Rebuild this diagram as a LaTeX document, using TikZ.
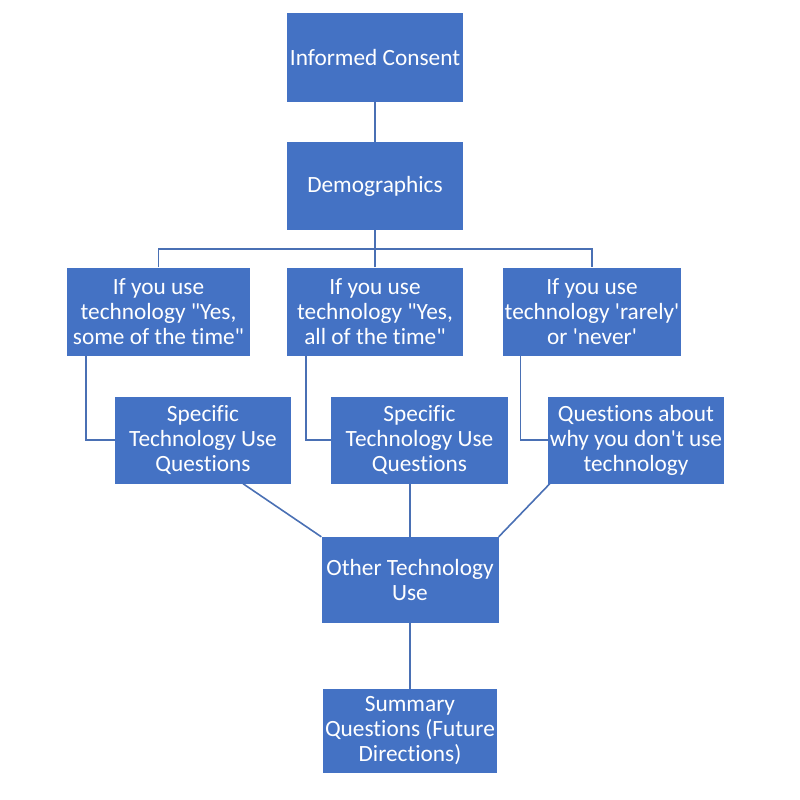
\documentclass[tikz,border=0pt]{standalone}
\usepackage{fontspec}
\setmainfont{Carlito}[Ligatures={TeXOff,NoCommon}]
\usetikzlibrary{calc}
\definecolor{officeblue}{HTML}{4472C4}
\definecolor{linkblue}{HTML}{4A70B4}

\begin{document}
\begin{tikzpicture}[x=1pt,y=-1pt,
 box/.style={fill=officeblue,text=white,align=center,inner sep=0pt,minimum height=88pt,minimum width=176pt,font=\fontsize{23.3}{25}\selectfont},
 link/.style={draw=linkblue,line width=1.6pt}]
\useasboundingbox (0,0) rectangle (800,800);
\node[box] (consent) at (375,57.5) {Informed Consent};
\node[box] (demo) at (375,186) {Demographics};
\node[box,minimum width=183pt] (yessome) at (158.5,311.5) {If you use\\technology "Yes,\\some of the time"};
\node[box] (yesall) at (375,311.5) {If you use\\technology "Yes,\\all of the time"};
\node[box,minimum width=178pt] (rarely) at (592,311.5) {If you use\\technology 'rarely'\\or 'never'};
\node[box,minimum height=87pt] (specsome) at (203,440) {Specific\\Technology Use\\Questions};
\node[box,minimum height=87pt,minimum width=177pt] (specall) at (419.5,440) {Specific\\Technology Use\\Questions};
\node[box,minimum height=87pt] (whynot) at (636,440) {Questions about\\why you don't use\\technology};
\node[box,minimum height=86pt,minimum width=177pt] (other) at (410,580) {Other Technology\\Use};
\node[box,minimum height=84pt,minimum width=174pt] (summary) at (410,731) {Summary\\Questions (Future\\Directions)};
\coordinate (bus) at (0,249);
\draw[link] (consent) -- (demo);
\draw[link] (demo.south) -- (demo.south |- bus);
\draw[link] (yessome.north) -- (yessome.north |- bus) -- (rarely.north |- bus) -- (rarely.north);
\draw[link] (yesall.north) -- (yesall.north |- bus);
\draw[link] ($(yessome.south west)!0.104!(yessome.south east)$) |- (specsome.west);
\draw[link] ($(yesall.south west)!0.108!(yesall.south east)$) |- (specall.west);
\draw[link] ($(rarely.south west)!0.1!(rarely.south east)$) |- (whynot.west);
\draw[link] ($(specsome.south west)!0.727!(specsome.south east)$) -- (other.north west);
\draw[link] (other.north) -- (other.north |- specall.south);
\draw[link] ($(whynot.south west)+(2,0)$) -- (other.north east);
\draw[link] (other) -- (summary);
\end{tikzpicture}
\end{document}
